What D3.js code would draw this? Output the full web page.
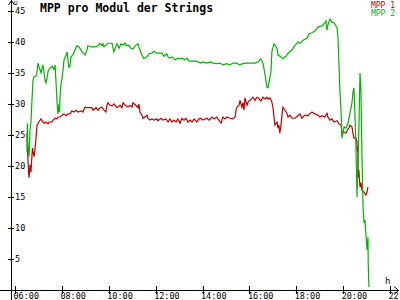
<!DOCTYPE html>
<html><head><meta charset="utf-8">
<script src="https://cdn.jsdelivr.net/npm/d3@7/dist/d3.min.js"></script>
<style>
body{margin:0;background:#fff;}
svg{display:block;}
text{font-family:"DejaVu Sans Mono",monospace;}
</style></head><body>
<svg id="c" width="400" height="300"></svg>
<script>
const title = "MPP pro Modul der Strings";
const seriesNames = ["MPP 1", "MPP 2"];
const xTickHours = [6, 8, 10, 12, 14, 16, 18, 20, 22];
const yTickValues = [5, 10, 15, 20, 25, 30, 35, 40, 45];

const mpp1Times = [6.51,6.52,6.55,6.58,6.60,6.64,6.68,6.73,6.75,6.77,6.81,6.85,6.90,6.94,7.02,7.11,7.19,7.24,7.32,7.41,7.45,7.58,7.62,7.71,7.79,7.83,7.92,8.01,8.09,8.18,8.26,8.35,8.43,8.52,8.60,8.69,8.82,8.90,8.99,9.07,9.20,9.28,9.33,9.46,9.54,9.63,9.71,9.80,9.88,9.92,9.97,10.05,10.14,10.22,10.35,10.39,10.48,10.56,10.61,10.73,10.82,10.91,10.99,11.03,11.16,11.25,11.29,11.33,11.42,11.46,11.55,11.63,11.67,11.76,11.84,11.93,12.06,12.10,12.23,12.31,12.44,12.53,12.61,12.70,12.78,12.87,12.95,13.04,13.12,13.21,13.29,13.38,13.47,13.55,13.64,13.76,13.85,13.93,14.02,14.19,14.28,14.40,14.49,14.62,14.66,14.79,14.87,14.96,15.04,15.17,15.30,15.39,15.43,15.47,15.56,15.60,15.68,15.73,15.77,15.81,15.90,15.94,16.03,16.15,16.24,16.32,16.37,16.49,16.58,16.67,16.75,16.79,16.88,16.96,17.01,17.05,17.09,17.18,17.22,17.26,17.30,17.35,17.39,17.43,17.52,17.60,17.65,17.73,17.82,17.94,18.07,18.16,18.24,18.37,18.50,18.58,18.67,18.80,18.93,19.01,19.10,19.22,19.31,19.35,19.44,19.52,19.61,19.74,19.82,19.91,19.95,20.04,20.12,20.21,20.25,20.29,20.38,20.42,20.46,20.55,20.59,20.60,20.63,20.64,20.67,20.72,20.76,20.80,20.89,20.97,21.02,21.06];
const mpp1Values = [25.3,23.9,21.3,19.0,18.1,20.2,19.0,22.1,22.9,22.3,21.5,22.6,24.7,26.6,27.1,27.6,27.1,26.9,27.1,26.8,27.1,27.1,27.4,27.7,27.6,27.9,27.9,28.2,28.4,28.1,28.4,28.4,28.9,28.7,29.0,28.7,28.9,28.7,29.5,29.4,29.4,29.4,29.0,29.4,29.0,29.4,29.5,29.0,28.7,29.8,30.2,29.8,29.7,30.0,29.4,29.5,29.8,29.4,30.2,29.7,29.5,29.8,29.5,30.2,29.8,29.4,30.0,28.7,28.2,27.7,27.9,28.2,27.7,27.4,27.6,27.4,27.6,27.3,27.7,27.4,27.6,27.1,27.6,27.1,27.4,27.1,27.6,26.9,27.7,27.4,27.7,27.1,27.4,27.1,27.6,27.1,27.6,27.7,27.4,27.7,27.4,27.9,27.6,27.9,27.6,26.9,27.9,27.6,27.9,27.7,27.6,27.9,29.0,29.5,29.8,30.6,29.5,30.2,29.0,31.0,29.8,30.3,30.6,31.1,30.6,31.1,31.0,30.5,31.1,30.8,31.1,30.8,31.0,30.3,29.4,27.9,26.6,27.1,26.1,26.6,25.3,26.6,28.2,29.5,29.0,28.5,27.9,28.2,27.7,27.7,28.1,28.4,27.7,28.2,28.1,28.4,28.7,28.4,28.2,27.9,28.1,27.9,28.5,27.9,27.4,27.6,27.1,27.3,26.8,26.6,25.2,25.5,25.3,26.0,26.1,26.6,26.3,25.3,24.5,24.5,23.9,22.3,23.1,18.2,19.4,16.6,17.3,16.1,15.8,15.3,15.8,16.6];

const mpp2Times = [6.51,6.53,6.55,6.60,6.64,6.68,6.73,6.77,6.81,6.90,6.94,6.98,7.02,7.07,7.11,7.19,7.24,7.28,7.32,7.37,7.41,7.49,7.58,7.66,7.71,7.75,7.79,7.83,7.88,7.90,7.92,7.96,8.01,8.05,8.09,8.18,8.22,8.26,8.30,8.35,8.39,8.47,8.56,8.64,8.73,8.82,8.86,8.99,9.07,9.11,9.28,9.41,9.54,9.63,9.71,9.75,9.80,9.88,9.97,10.05,10.14,10.22,10.35,10.44,10.52,10.61,10.69,10.78,10.86,10.95,11.03,11.16,11.25,11.33,11.42,11.50,11.63,11.72,11.84,11.93,12.06,12.14,12.27,12.36,12.48,12.53,12.61,12.70,12.83,12.95,13.04,13.12,13.25,13.34,13.42,13.55,13.72,13.81,13.93,14.02,14.19,14.36,14.45,14.62,14.75,14.87,15.04,15.17,15.30,15.47,15.56,15.73,15.85,15.94,16.11,16.24,16.37,16.49,16.58,16.67,16.75,16.79,16.84,16.92,16.96,17.05,17.18,17.22,17.35,17.43,17.56,17.65,17.82,17.90,18.03,18.07,18.16,18.29,18.46,18.54,18.67,18.80,18.93,19.10,19.18,19.27,19.31,19.35,19.44,19.52,19.61,19.74,19.78,19.82,19.86,19.91,19.95,20.04,20.12,20.21,20.29,20.38,20.42,20.46,20.50,20.55,20.59,20.63,20.67,20.72,20.76,20.80,20.85,20.89,20.93,20.97,21.02,21.06,21.07,21.10];
const mpp2Values = [22.3,26.9,23.4,21.5,25.8,27.1,31.0,33.9,34.4,34.5,35.2,36.6,36.0,35.5,35.0,36.3,35.0,33.9,33.4,34.2,35.2,35.8,36.1,35.6,36.3,33.5,30.6,28.4,30.0,28.7,31.0,33.1,34.2,35.5,37.1,37.9,38.4,37.1,35.8,36.3,37.6,37.9,38.7,39.4,39.2,38.7,38.4,37.9,38.7,39.4,39.2,39.2,39.4,39.8,39.4,39.7,39.2,39.5,39.8,39.8,39.8,38.4,39.7,39.0,39.7,39.5,39.8,39.4,39.5,39.0,38.9,39.5,39.7,38.7,37.9,37.3,37.6,38.1,38.2,38.5,38.2,38.2,38.2,37.7,38.1,37.6,37.4,37.6,37.1,37.4,37.3,37.4,37.1,37.4,36.9,36.9,36.9,36.8,36.6,36.8,36.6,36.8,36.6,36.5,36.6,36.3,36.5,36.3,36.6,36.6,36.3,36.5,36.6,36.6,36.6,36.6,36.8,37.3,36.6,34.7,32.7,32.6,33.5,35.2,38.4,39.7,39.0,37.9,37.6,37.3,37.7,38.2,38.7,39.2,39.8,40.0,39.8,40.3,40.6,41.3,41.5,41.8,42.4,42.6,42.9,43.4,41.9,42.7,43.7,43.2,43.1,42.3,40.8,36.6,32.3,29.0,24.5,26.3,26.1,26.9,28.5,30.2,31.9,32.6,29.0,22.6,15.0,19.8,25.8,35.0,32.3,22.6,13.4,10.8,11.3,9.2,6.5,8.5,4.4,0.5];

const colors = ["#c00000", "#00b400"];

const svg = d3.select("#c");
const x = d3.scaleLinear().domain([6, 22]).range([15, 390]);
const y = d3.scaleLinear().domain([0, 45]).range([290, 11]);
const axisX0 = x(5.83);
const axisY0 = y(0);

// axis lines
svg.append("line").attr("x1", 0).attr("x2", 398).attr("y1", axisY0 + 0.5).attr("y2", axisY0 + 0.5)
  .attr("stroke", "#000").attr("shape-rendering", "crispEdges");
svg.append("line").attr("x1", axisX0 + 0.5).attr("x2", axisX0 + 0.5).attr("y1", 0).attr("y2", 300)
  .attr("stroke", "#000").attr("shape-rendering", "crispEdges");
// arrows
svg.append("path").attr("d", `M${axisX0 - 2.5},5 L${axisX0 + 0.5},0.5 L${axisX0 + 3.5},5`)
  .attr("fill", "none").attr("stroke", "#000");
svg.append("path").attr("d", `M394,${axisY0 - 3.5} L398.5,${axisY0 + 0.5} L394,${axisY0 + 4.5}`)
  .attr("fill", "none").attr("stroke", "#000");
svg.append("text").attr("x", axisX0 + 3).attr("y", 5).attr("font-size", 6).text("U");
svg.append("text").attr("x", 385).attr("y", 284).attr("font-size", 9).text("h");

// x axis
const gx = svg.append("g").attr("transform", `translate(0,${axisY0})`)
  .call(d3.axisBottom(x).tickValues(xTickHours).tickSizeInner(4).tickSizeOuter(0)
    .tickFormat(d => String(d).padStart(2, "0") + ":00"));
gx.select(".domain").remove();
gx.selectAll(".tick line").attr("y1", -4).attr("y2", 4).attr("shape-rendering", "crispEdges");
gx.selectAll(".tick text").attr("text-anchor", "start").attr("dx", -2).attr("y", 9).attr("dy", 0)
  .attr("font-family", "DejaVu Sans Mono, monospace").attr("font-size", 8.5).attr("fill", "#000");

// y axis
const gy = svg.append("g").attr("transform", `translate(${axisX0},0)`)
  .call(d3.axisRight(y).tickValues(yTickValues).tickSizeInner(3).tickSizeOuter(0));
gy.select(".domain").remove();
gy.selectAll(".tick line").attr("x1", -3).attr("x2", 3).attr("shape-rendering", "crispEdges");
gy.selectAll(".tick text").attr("x", 4).attr("font-family", "DejaVu Sans Mono, monospace")
  .attr("font-size", 8.5).attr("fill", "#000");

// series
const line = d3.line().x(d => x(d[0])).y(d => y(d[1]));
const s1 = mpp1Times.map((t, i) => [t, mpp1Values[i]]);
const s2 = mpp2Times.map((t, i) => [t, mpp2Values[i]]);
[s1, s2].forEach((s, i) => {
  svg.append("path").datum(s).attr("d", line).attr("fill", "none")
    .attr("stroke", colors[i]).attr("stroke-width", 1.2);
});

// title
svg.append("text").attr("x", 40).attr("y", 12).attr("font-size", 11.5).attr("font-weight", "bold").text(title);

// legend
seriesNames.forEach((n, i) => {
  svg.append("text").attr("x", 395).attr("y", 7.5 + i * 8.5).attr("text-anchor", "end")
    .attr("font-size", 8).attr("fill", colors[i]).text(n);
});
</script>
</body></html>
